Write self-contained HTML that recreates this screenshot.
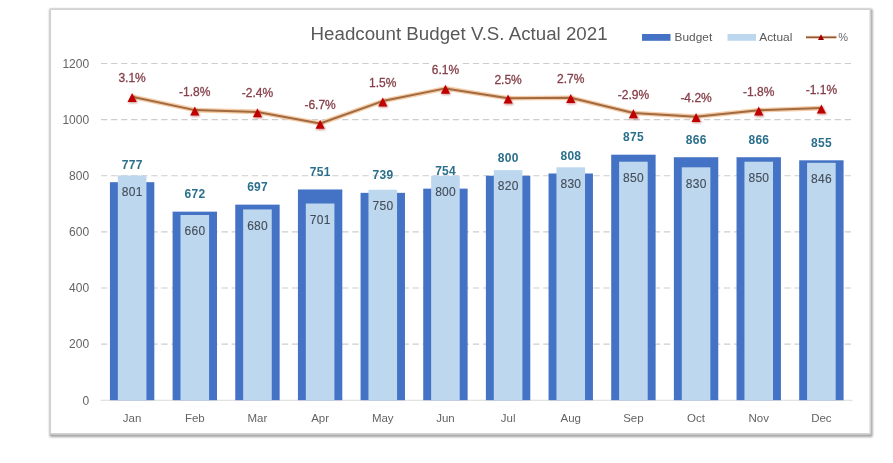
<!DOCTYPE html><html><head><meta charset="utf-8"><style>html,body{margin:0;padding:0;background:#fff;width:893px;height:463px;overflow:hidden}svg{display:block;filter:blur(0.4px)}</style></head><body>
<svg width="893" height="463" viewBox="0 0 893 463">
<defs><filter id="sh" x="-5%" y="-5%" width="110%" height="110%"><feGaussianBlur stdDeviation="1.2"/></filter><filter id="ms" x="-50%" y="-50%" width="200%" height="200%"><feGaussianBlur stdDeviation="0.8"/></filter></defs>
<rect x="51.2" y="10.6" width="819.8" height="424.8" fill="none" stroke="#9a9a9a" stroke-width="3" filter="url(#sh)"/>
<rect x="50.3" y="9.2" width="820" height="424.6" fill="#fff" stroke="#d2d2d2" stroke-width="1.6"/>
<line x1="101" y1="344.08" x2="852" y2="344.08" stroke="#cdcdcd" stroke-width="1.1" stroke-dasharray="6.3 3.75"/>
<line x1="101" y1="287.97" x2="852" y2="287.97" stroke="#cdcdcd" stroke-width="1.1" stroke-dasharray="6.3 3.75"/>
<line x1="101" y1="231.85" x2="852" y2="231.85" stroke="#cdcdcd" stroke-width="1.1" stroke-dasharray="6.3 3.75"/>
<line x1="101" y1="175.74" x2="852" y2="175.74" stroke="#cdcdcd" stroke-width="1.1" stroke-dasharray="6.3 3.75"/>
<line x1="101" y1="119.62" x2="852" y2="119.62" stroke="#cdcdcd" stroke-width="1.1" stroke-dasharray="6.3 3.75"/>
<line x1="101" y1="63.50" x2="852" y2="63.50" stroke="#cdcdcd" stroke-width="1.1" stroke-dasharray="6.3 3.75"/>
<line x1="100.5" y1="400.20" x2="852.5" y2="400.20" stroke="#d9d9d9" stroke-width="1.1"/>
<text x="89.1" y="404.50" font-family="Liberation Sans, Arial, sans-serif" font-size="12" fill="#646464" text-anchor="end">0</text>
<text x="89.1" y="348.38" font-family="Liberation Sans, Arial, sans-serif" font-size="12" fill="#646464" text-anchor="end">200</text>
<text x="89.1" y="292.27" font-family="Liberation Sans, Arial, sans-serif" font-size="12" fill="#646464" text-anchor="end">400</text>
<text x="89.1" y="236.15" font-family="Liberation Sans, Arial, sans-serif" font-size="12" fill="#646464" text-anchor="end">600</text>
<text x="89.1" y="180.04" font-family="Liberation Sans, Arial, sans-serif" font-size="12" fill="#646464" text-anchor="end">800</text>
<text x="89.1" y="123.92" font-family="Liberation Sans, Arial, sans-serif" font-size="12" fill="#646464" text-anchor="end">1000</text>
<text x="89.1" y="67.80" font-family="Liberation Sans, Arial, sans-serif" font-size="12" fill="#646464" text-anchor="end">1200</text>
<rect x="109.93" y="182.19" width="44.4" height="218.01" fill="#4472c4"/>
<rect x="117.83" y="175.46" width="28.6" height="224.74" fill="#bdd7ee"/>
<rect x="172.59" y="211.65" width="44.4" height="188.55" fill="#4472c4"/>
<rect x="180.49" y="215.02" width="28.6" height="185.18" fill="#bdd7ee"/>
<rect x="235.25" y="204.64" width="44.4" height="195.56" fill="#4472c4"/>
<rect x="243.15" y="209.41" width="28.6" height="190.79" fill="#bdd7ee"/>
<rect x="297.91" y="189.48" width="44.4" height="210.72" fill="#4472c4"/>
<rect x="305.81" y="203.51" width="28.6" height="196.69" fill="#bdd7ee"/>
<rect x="360.57" y="192.85" width="44.4" height="207.35" fill="#4472c4"/>
<rect x="368.47" y="189.76" width="28.6" height="210.44" fill="#bdd7ee"/>
<rect x="423.23" y="188.64" width="44.4" height="211.56" fill="#4472c4"/>
<rect x="431.13" y="175.74" width="28.6" height="224.46" fill="#bdd7ee"/>
<rect x="485.89" y="175.74" width="44.4" height="224.46" fill="#4472c4"/>
<rect x="493.79" y="170.12" width="28.6" height="230.08" fill="#bdd7ee"/>
<rect x="548.55" y="173.49" width="44.4" height="226.71" fill="#4472c4"/>
<rect x="556.45" y="167.32" width="28.6" height="232.88" fill="#bdd7ee"/>
<rect x="611.21" y="154.69" width="44.4" height="245.51" fill="#4472c4"/>
<rect x="619.11" y="161.71" width="28.6" height="238.49" fill="#bdd7ee"/>
<rect x="673.87" y="157.22" width="44.4" height="242.98" fill="#4472c4"/>
<rect x="681.77" y="167.32" width="28.6" height="232.88" fill="#bdd7ee"/>
<rect x="736.53" y="157.22" width="44.4" height="242.98" fill="#4472c4"/>
<rect x="744.43" y="161.71" width="28.6" height="238.49" fill="#bdd7ee"/>
<rect x="799.19" y="160.30" width="44.4" height="239.90" fill="#4472c4"/>
<rect x="807.09" y="162.83" width="28.6" height="237.37" fill="#bdd7ee"/>
<polyline points="132.13,96.69 194.79,110.12 257.45,111.92 320.11,123.54 382.77,101.10 445.43,88.39 508.09,98.31 570.75,97.70 633.41,113.07 696.07,116.65 758.73,110.29 821.39,108.10" fill="none" stroke="#f5cca6" stroke-width="4.6" stroke-linejoin="round"/>
<polyline points="132.13,96.69 194.79,110.12 257.45,111.92 320.11,123.54 382.77,101.10 445.43,88.39 508.09,98.31 570.75,97.70 633.41,113.07 696.07,116.65 758.73,110.29 821.39,108.10" fill="none" stroke="#a06a42" stroke-width="2.0" stroke-linejoin="round"/>
<path d="M132.93,93.99 L137.73,103.09 L128.13,103.09Z" fill="#b04040" opacity="0.6" filter="url(#ms)"/>
<path d="M132.13,92.99 L136.73,101.99 L127.53,101.99Z" fill="#c00000"/>
<path d="M195.59,107.42 L200.39,116.52 L190.79,116.52Z" fill="#b04040" opacity="0.6" filter="url(#ms)"/>
<path d="M194.79,106.42 L199.39,115.42 L190.19,115.42Z" fill="#c00000"/>
<path d="M258.25,109.22 L263.05,118.32 L253.45,118.32Z" fill="#b04040" opacity="0.6" filter="url(#ms)"/>
<path d="M257.45,108.22 L262.05,117.22 L252.85,117.22Z" fill="#c00000"/>
<path d="M320.91,120.84 L325.71,129.94 L316.11,129.94Z" fill="#b04040" opacity="0.6" filter="url(#ms)"/>
<path d="M320.11,119.84 L324.71,128.84 L315.51,128.84Z" fill="#c00000"/>
<path d="M383.57,98.40 L388.37,107.50 L378.77,107.50Z" fill="#b04040" opacity="0.6" filter="url(#ms)"/>
<path d="M382.77,97.40 L387.37,106.40 L378.17,106.40Z" fill="#c00000"/>
<path d="M446.23,85.69 L451.03,94.79 L441.43,94.79Z" fill="#b04040" opacity="0.6" filter="url(#ms)"/>
<path d="M445.43,84.69 L450.03,93.69 L440.83,93.69Z" fill="#c00000"/>
<path d="M508.89,95.61 L513.69,104.71 L504.09,104.71Z" fill="#b04040" opacity="0.6" filter="url(#ms)"/>
<path d="M508.09,94.61 L512.69,103.61 L503.49,103.61Z" fill="#c00000"/>
<path d="M571.55,95.00 L576.35,104.10 L566.75,104.10Z" fill="#b04040" opacity="0.6" filter="url(#ms)"/>
<path d="M570.75,94.00 L575.35,103.00 L566.15,103.00Z" fill="#c00000"/>
<path d="M634.21,110.37 L639.01,119.47 L629.41,119.47Z" fill="#b04040" opacity="0.6" filter="url(#ms)"/>
<path d="M633.41,109.37 L638.01,118.37 L628.81,118.37Z" fill="#c00000"/>
<path d="M696.87,113.95 L701.67,123.05 L692.07,123.05Z" fill="#b04040" opacity="0.6" filter="url(#ms)"/>
<path d="M696.07,112.95 L700.67,121.95 L691.47,121.95Z" fill="#c00000"/>
<path d="M759.53,107.59 L764.33,116.69 L754.73,116.69Z" fill="#b04040" opacity="0.6" filter="url(#ms)"/>
<path d="M758.73,106.59 L763.33,115.59 L754.13,115.59Z" fill="#c00000"/>
<path d="M822.19,105.40 L826.99,114.50 L817.39,114.50Z" fill="#b04040" opacity="0.6" filter="url(#ms)"/>
<path d="M821.39,104.40 L825.99,113.40 L816.79,113.40Z" fill="#c00000"/>
<text x="132.13" y="168.59" font-family="Liberation Sans, Arial, sans-serif" font-size="12" font-weight="bold" fill="#2b6f8c" text-anchor="middle" textLength="20.6" lengthAdjust="spacing">777</text>
<text x="132.13" y="195.76" font-family="Liberation Sans, Arial, sans-serif" font-size="12" fill="#434d59" stroke="#434d59" stroke-width="0.12" text-anchor="middle" textLength="20.6" lengthAdjust="spacing">801</text>
<rect x="115.95" y="70.69" width="32.35" height="14.5" fill="#fff"/>
<text x="132.13" y="82.19" font-family="Liberation Sans, Arial, sans-serif" font-size="12" fill="#86404a" stroke="#86404a" stroke-width="0.3" text-anchor="middle">3.1%</text>
<text x="132.13" y="421.5" font-family="Liberation Sans, Arial, sans-serif" font-size="11.5" fill="#646464" text-anchor="middle">Jan</text>
<text x="194.79" y="198.05" font-family="Liberation Sans, Arial, sans-serif" font-size="12" font-weight="bold" fill="#2b6f8c" text-anchor="middle" textLength="20.6" lengthAdjust="spacing">672</text>
<text x="194.79" y="235.32" font-family="Liberation Sans, Arial, sans-serif" font-size="12" fill="#434d59" stroke="#434d59" stroke-width="0.12" text-anchor="middle" textLength="20.6" lengthAdjust="spacing">660</text>
<rect x="176.61" y="84.12" width="36.35" height="14.5" fill="#fff"/>
<text x="194.79" y="95.62" font-family="Liberation Sans, Arial, sans-serif" font-size="12" fill="#86404a" stroke="#86404a" stroke-width="0.3" text-anchor="middle">-1.8%</text>
<text x="194.79" y="421.5" font-family="Liberation Sans, Arial, sans-serif" font-size="11.5" fill="#646464" text-anchor="middle">Feb</text>
<text x="257.45" y="191.04" font-family="Liberation Sans, Arial, sans-serif" font-size="12" font-weight="bold" fill="#2b6f8c" text-anchor="middle" textLength="20.6" lengthAdjust="spacing">697</text>
<text x="257.45" y="229.71" font-family="Liberation Sans, Arial, sans-serif" font-size="12" fill="#434d59" stroke="#434d59" stroke-width="0.12" text-anchor="middle" textLength="20.6" lengthAdjust="spacing">680</text>
<rect x="239.27" y="85.92" width="36.35" height="14.5" fill="#fff"/>
<text x="257.45" y="97.42" font-family="Liberation Sans, Arial, sans-serif" font-size="12" fill="#86404a" stroke="#86404a" stroke-width="0.3" text-anchor="middle">-2.4%</text>
<text x="257.45" y="421.5" font-family="Liberation Sans, Arial, sans-serif" font-size="11.5" fill="#646464" text-anchor="middle">Mar</text>
<text x="320.11" y="175.88" font-family="Liberation Sans, Arial, sans-serif" font-size="12" font-weight="bold" fill="#2b6f8c" text-anchor="middle" textLength="20.6" lengthAdjust="spacing">751</text>
<text x="320.11" y="223.81" font-family="Liberation Sans, Arial, sans-serif" font-size="12" fill="#434d59" stroke="#434d59" stroke-width="0.12" text-anchor="middle" textLength="20.6" lengthAdjust="spacing">701</text>
<rect x="301.94" y="97.54" width="36.35" height="14.5" fill="#fff"/>
<text x="320.11" y="109.04" font-family="Liberation Sans, Arial, sans-serif" font-size="12" fill="#86404a" stroke="#86404a" stroke-width="0.3" text-anchor="middle">-6.7%</text>
<text x="320.11" y="421.5" font-family="Liberation Sans, Arial, sans-serif" font-size="11.5" fill="#646464" text-anchor="middle">Apr</text>
<text x="382.77" y="179.25" font-family="Liberation Sans, Arial, sans-serif" font-size="12" font-weight="bold" fill="#2b6f8c" text-anchor="middle" textLength="20.6" lengthAdjust="spacing">739</text>
<text x="382.77" y="210.06" font-family="Liberation Sans, Arial, sans-serif" font-size="12" fill="#434d59" stroke="#434d59" stroke-width="0.12" text-anchor="middle" textLength="20.6" lengthAdjust="spacing">750</text>
<rect x="366.59" y="75.10" width="32.35" height="14.5" fill="#fff"/>
<text x="382.77" y="86.60" font-family="Liberation Sans, Arial, sans-serif" font-size="12" fill="#86404a" stroke="#86404a" stroke-width="0.3" text-anchor="middle">1.5%</text>
<text x="382.77" y="421.5" font-family="Liberation Sans, Arial, sans-serif" font-size="11.5" fill="#646464" text-anchor="middle">May</text>
<text x="445.43" y="175.04" font-family="Liberation Sans, Arial, sans-serif" font-size="12" font-weight="bold" fill="#2b6f8c" text-anchor="middle" textLength="20.6" lengthAdjust="spacing">754</text>
<text x="445.43" y="196.04" font-family="Liberation Sans, Arial, sans-serif" font-size="12" fill="#434d59" stroke="#434d59" stroke-width="0.12" text-anchor="middle" textLength="20.6" lengthAdjust="spacing">800</text>
<rect x="429.25" y="62.39" width="32.35" height="14.5" fill="#fff"/>
<text x="445.43" y="73.89" font-family="Liberation Sans, Arial, sans-serif" font-size="12" fill="#86404a" stroke="#86404a" stroke-width="0.3" text-anchor="middle">6.1%</text>
<text x="445.43" y="421.5" font-family="Liberation Sans, Arial, sans-serif" font-size="11.5" fill="#646464" text-anchor="middle">Jun</text>
<text x="508.09" y="162.14" font-family="Liberation Sans, Arial, sans-serif" font-size="12" font-weight="bold" fill="#2b6f8c" text-anchor="middle" textLength="20.6" lengthAdjust="spacing">800</text>
<text x="508.09" y="190.42" font-family="Liberation Sans, Arial, sans-serif" font-size="12" fill="#434d59" stroke="#434d59" stroke-width="0.12" text-anchor="middle" textLength="20.6" lengthAdjust="spacing">820</text>
<rect x="491.91" y="72.31" width="32.35" height="14.5" fill="#fff"/>
<text x="508.09" y="83.81" font-family="Liberation Sans, Arial, sans-serif" font-size="12" fill="#86404a" stroke="#86404a" stroke-width="0.3" text-anchor="middle">2.5%</text>
<text x="508.09" y="421.5" font-family="Liberation Sans, Arial, sans-serif" font-size="11.5" fill="#646464" text-anchor="middle">Jul</text>
<text x="570.75" y="159.89" font-family="Liberation Sans, Arial, sans-serif" font-size="12" font-weight="bold" fill="#2b6f8c" text-anchor="middle" textLength="20.6" lengthAdjust="spacing">808</text>
<text x="570.75" y="187.62" font-family="Liberation Sans, Arial, sans-serif" font-size="12" fill="#434d59" stroke="#434d59" stroke-width="0.12" text-anchor="middle" textLength="20.6" lengthAdjust="spacing">830</text>
<rect x="554.58" y="71.70" width="32.35" height="14.5" fill="#fff"/>
<text x="570.75" y="83.20" font-family="Liberation Sans, Arial, sans-serif" font-size="12" fill="#86404a" stroke="#86404a" stroke-width="0.3" text-anchor="middle">2.7%</text>
<text x="570.75" y="421.5" font-family="Liberation Sans, Arial, sans-serif" font-size="11.5" fill="#646464" text-anchor="middle">Aug</text>
<text x="633.41" y="141.09" font-family="Liberation Sans, Arial, sans-serif" font-size="12" font-weight="bold" fill="#2b6f8c" text-anchor="middle" textLength="20.6" lengthAdjust="spacing">875</text>
<text x="633.41" y="182.01" font-family="Liberation Sans, Arial, sans-serif" font-size="12" fill="#434d59" stroke="#434d59" stroke-width="0.12" text-anchor="middle" textLength="20.6" lengthAdjust="spacing">850</text>
<rect x="615.24" y="87.07" width="36.35" height="14.5" fill="#fff"/>
<text x="633.41" y="98.57" font-family="Liberation Sans, Arial, sans-serif" font-size="12" fill="#86404a" stroke="#86404a" stroke-width="0.3" text-anchor="middle">-2.9%</text>
<text x="633.41" y="421.5" font-family="Liberation Sans, Arial, sans-serif" font-size="11.5" fill="#646464" text-anchor="middle">Sep</text>
<text x="696.07" y="143.62" font-family="Liberation Sans, Arial, sans-serif" font-size="12" font-weight="bold" fill="#2b6f8c" text-anchor="middle" textLength="20.6" lengthAdjust="spacing">866</text>
<text x="696.07" y="187.62" font-family="Liberation Sans, Arial, sans-serif" font-size="12" fill="#434d59" stroke="#434d59" stroke-width="0.12" text-anchor="middle" textLength="20.6" lengthAdjust="spacing">830</text>
<rect x="677.89" y="90.65" width="36.35" height="14.5" fill="#fff"/>
<text x="696.07" y="102.15" font-family="Liberation Sans, Arial, sans-serif" font-size="12" fill="#86404a" stroke="#86404a" stroke-width="0.3" text-anchor="middle">-4.2%</text>
<text x="696.07" y="421.5" font-family="Liberation Sans, Arial, sans-serif" font-size="11.5" fill="#646464" text-anchor="middle">Oct</text>
<text x="758.73" y="143.62" font-family="Liberation Sans, Arial, sans-serif" font-size="12" font-weight="bold" fill="#2b6f8c" text-anchor="middle" textLength="20.6" lengthAdjust="spacing">866</text>
<text x="758.73" y="182.01" font-family="Liberation Sans, Arial, sans-serif" font-size="12" fill="#434d59" stroke="#434d59" stroke-width="0.12" text-anchor="middle" textLength="20.6" lengthAdjust="spacing">850</text>
<rect x="740.55" y="84.29" width="36.35" height="14.5" fill="#fff"/>
<text x="758.73" y="95.79" font-family="Liberation Sans, Arial, sans-serif" font-size="12" fill="#86404a" stroke="#86404a" stroke-width="0.3" text-anchor="middle">-1.8%</text>
<text x="758.73" y="421.5" font-family="Liberation Sans, Arial, sans-serif" font-size="11.5" fill="#646464" text-anchor="middle">Nov</text>
<text x="821.39" y="146.70" font-family="Liberation Sans, Arial, sans-serif" font-size="12" font-weight="bold" fill="#2b6f8c" text-anchor="middle" textLength="20.6" lengthAdjust="spacing">855</text>
<text x="821.39" y="183.13" font-family="Liberation Sans, Arial, sans-serif" font-size="12" fill="#434d59" stroke="#434d59" stroke-width="0.12" text-anchor="middle" textLength="20.6" lengthAdjust="spacing">846</text>
<rect x="803.21" y="82.10" width="36.35" height="14.5" fill="#fff"/>
<text x="821.39" y="93.60" font-family="Liberation Sans, Arial, sans-serif" font-size="12" fill="#86404a" stroke="#86404a" stroke-width="0.3" text-anchor="middle">-1.1%</text>
<text x="821.39" y="421.5" font-family="Liberation Sans, Arial, sans-serif" font-size="11.5" fill="#646464" text-anchor="middle">Dec</text>
<text x="310.6" y="40" font-family="Liberation Sans, Arial, sans-serif" font-size="17.5" fill="#595959" textLength="297" lengthAdjust="spacingAndGlyphs">Headcount Budget V.S. Actual 2021</text>
<rect x="642" y="34" width="28.5" height="6.8" fill="#4472c4"/>
<text x="674.6" y="41.3" font-family="Liberation Sans, Arial, sans-serif" font-size="11.3" fill="#595959" textLength="37.6" lengthAdjust="spacingAndGlyphs">Budget</text>
<rect x="727.5" y="34" width="28.5" height="6.8" fill="#bdd7ee"/>
<text x="759.2" y="41.3" font-family="Liberation Sans, Arial, sans-serif" font-size="11.3" fill="#595959" textLength="33.2" lengthAdjust="spacingAndGlyphs">Actual</text>
<line x1="806" y1="37.3" x2="836.4" y2="37.3" stroke="#f4b183" stroke-width="3" opacity="0.7"/>
<line x1="806" y1="37.3" x2="836.4" y2="37.3" stroke="#8a5a3a" stroke-width="1.5"/>
<path d="M821,34.2 L824,40 L818,40Z" fill="#a00000"/>
<text x="838.2" y="41.3" font-family="Liberation Sans, Arial, sans-serif" font-size="11.3" fill="#6a6a6a" textLength="9.8" lengthAdjust="spacingAndGlyphs">%</text>
</svg></body></html>
